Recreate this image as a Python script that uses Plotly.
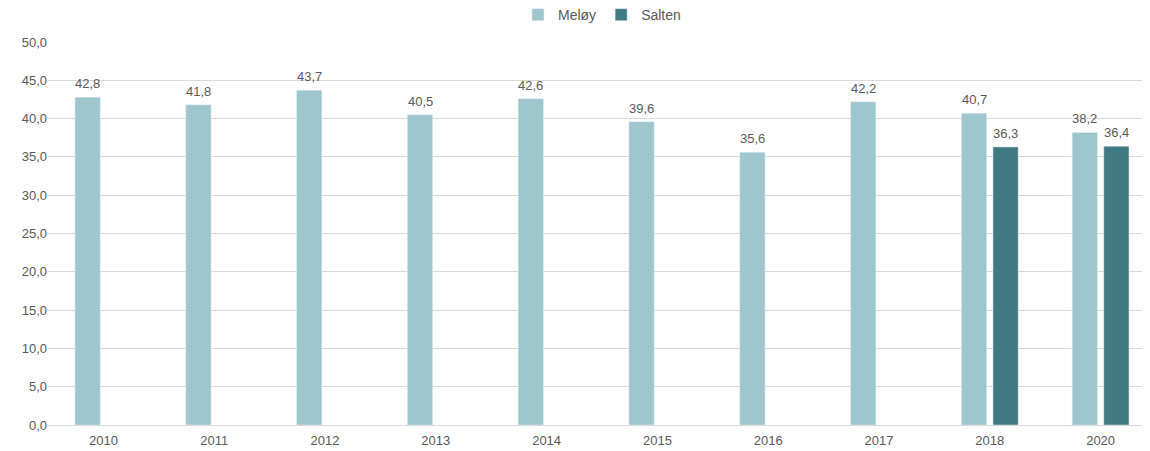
import plotly.graph_objects as go

years = ["2010", "2011", "2012", "2013", "2014", "2015", "2016", "2017", "2018", "2020"]
meloy = [42.8, 41.8, 43.7, 40.5, 42.6, 39.6, 35.6, 42.2, 40.7, 38.2]
salten = [None, None, None, None, None, None, None, None, 36.3, 36.4]

txt = "#595959"
fnt = "Liberation Sans, Arial, sans-serif"

fig = go.Figure()
fig.add_trace(go.Bar(x=years, y=meloy, name="Meløy", marker_color="#9DC6CD",
                     offsetgroup="m"))
fig.add_trace(go.Bar(x=years, y=salten, name="Salten", marker_color="#417A82",
                     offsetgroup="s"))

# data labels: placed over each bar, shifted a few px up
for i, (yr, v) in enumerate(zip(years, meloy)):
    fig.add_annotation(x=i - 0.142, y=v, text=f"{v:.1f}".replace(".", ","),
                       showarrow=False, yanchor="bottom", yshift=4,
                       font=dict(size=13, color=txt))
for i, (yr, v) in enumerate(zip(years, salten)):
    if v is None:
        continue
    fig.add_annotation(x=i + 0.142, y=v, text=f"{v:.1f}".replace(".", ","),
                       showarrow=False, yanchor="bottom", yshift=4,
                       font=dict(size=13, color=txt))

# page body has an 8px margin, so the figure is offset inside the window
fig.update_layout(
    width=1148, height=443,
    barmode="group", bargap=0.43, bargroupgap=0.2,
    separators=", ",
    plot_bgcolor="white", paper_bgcolor="white",
    font=dict(family=fnt, size=13, color=txt),
    margin=dict(l=40, r=0, t=34, b=26, autoexpand=False),
    legend=dict(orientation="h", x=0.5, xanchor="center", y=0.984, yanchor="middle",
                yref="container", font=dict(size=14, color=txt), itemwidth=30),
    xaxis=dict(type="category", showgrid=False, ticks="", showline=False,
               automargin=False, ticklabelstandoff=6,
               tickfont=dict(size=13, color=txt)),
    yaxis=dict(range=[0, 50], dtick=5, tickformat=".1f", gridcolor="#D9D9D9",
               gridwidth=1, zeroline=True, zerolinecolor="#D9D9D9", zerolinewidth=1,
               automargin=False, ticks="", tickfont=dict(size=13, color=txt)),
)

fig.write_html("out.html")
